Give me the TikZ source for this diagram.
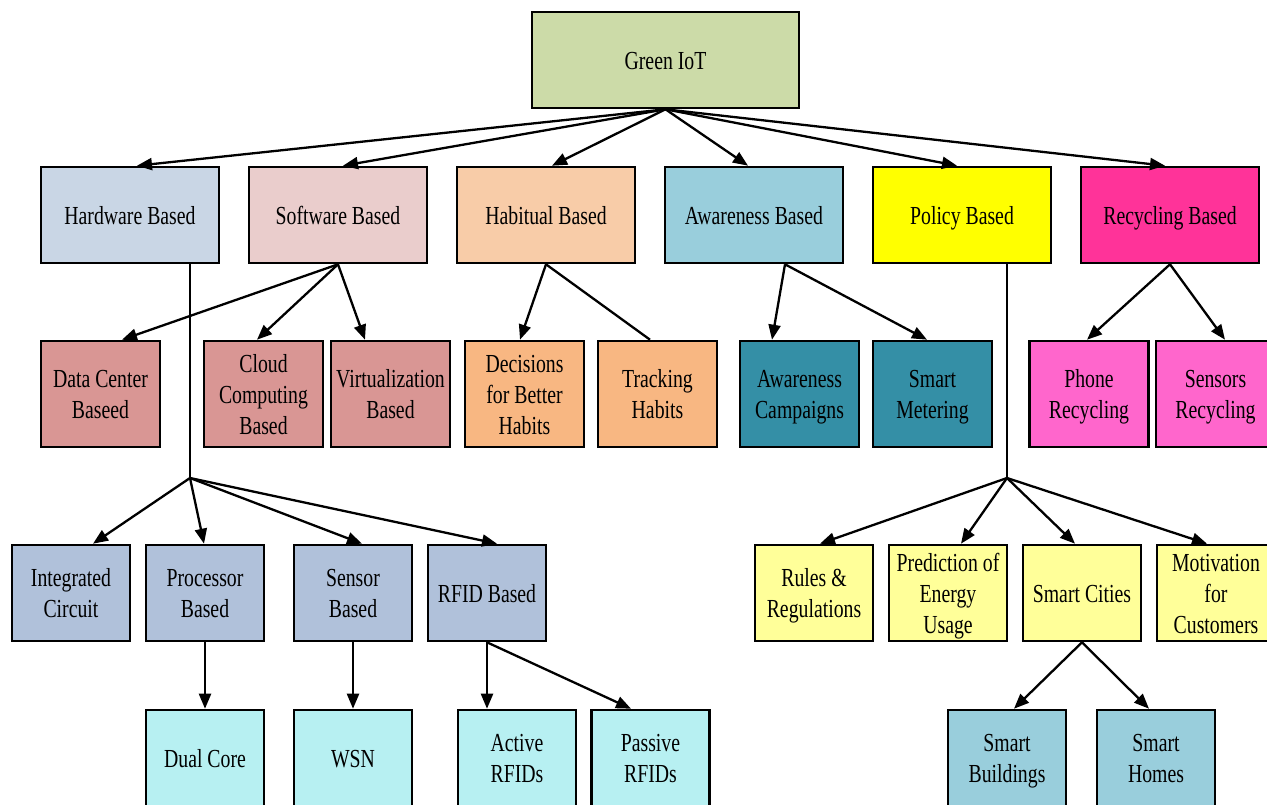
\documentclass[tikz,border=0pt]{standalone}
\usepackage{fontspec}
\setmainfont[FakeStretch=0.76]{Liberation Serif}
\usetikzlibrary{arrows.meta,calc}
\definecolor{cTop}{RGB}{204,219,168}
\definecolor{cHw}{RGB}{201,214,229}
\definecolor{cSw}{RGB}{234,205,204}
\definecolor{cHab}{RGB}{248,204,168}
\definecolor{cAwa}{RGB}{153,206,220}
\definecolor{cPol}{RGB}{255,255,0}
\definecolor{cRec}{RGB}{255,51,153}
\definecolor{cSwK}{RGB}{217,150,148}
\definecolor{cHabK}{RGB}{248,183,130}
\definecolor{cAwaK}{RGB}{52,143,166}
\definecolor{cRecK}{RGB}{255,102,204}
\definecolor{cHwK}{RGB}{176,193,218}
\definecolor{cLeaf}{RGB}{183,240,242}
\definecolor{cPolK}{RGB}{255,255,153}
\newcommand\bstr{\rule[-6.5pt]{0pt}{31pt}}
\begin{document}
\begin{tikzpicture}[x=1pt,y=-1pt,
  box/.style={draw=black, line width=2.6pt, align=center, inner sep=0pt, font=\fontsize{26}{31}\selectfont},
  topbox/.style={box, minimum width=267pt, minimum height=96pt},
  rowone/.style={box, minimum width=178pt, minimum height=96pt},
  rowtwo/.style={box, minimum width=119pt, minimum height=106pt},
  rowthree/.style={box, minimum width=118pt, minimum height=96pt},
  conn/.style={line width=2.3pt, -{Triangle[length=15pt,width=12pt]}},
  plainline/.style={line width=2.3pt}]
\useasboundingbox (0,0) rectangle (1267,804);
\clip (0,0) rectangle (1267,804);

% top
\node[topbox, fill=cTop] (giot) at (665.5,60) {\bstr Green IoT};

% row 1
\node[rowone, fill=cHw]  (hw)  at (130,215)  {\bstr Hardware Based};
\node[rowone, fill=cSw]  (sw)  at (338,215)  {\bstr Software Based};
\node[rowone, fill=cHab] (hab) at (546,215)  {\bstr Habitual Based};
\node[rowone, fill=cAwa] (awa) at (754,215)  {\bstr Awareness Based};
\node[rowone, fill=cPol] (pol) at (962,215)  {\bstr Policy Based};
\node[rowone, fill=cRec] (rec) at (1170,215) {\bstr Recycling Based};

% row 2
\node[rowtwo, fill=cSwK]  (dc)  at (100.5,394) {\bstr Data Center\\\bstr Baseed};
\node[rowtwo, fill=cSwK]  (cc)  at (263.5,394) {\bstr Cloud\\\bstr Computing\\\bstr Based};
\node[rowtwo, fill=cSwK]  (vb)  at (390.5,394) {\bstr Virtualization\\\bstr Based};
\node[rowtwo, fill=cHabK] (dbh) at (524.5,394) {\bstr Decisions\\\bstr for Better\\\bstr Habits};
\node[rowtwo, fill=cHabK] (th)  at (657.5,394) {\bstr Tracking\\\bstr Habits};
\node[rowtwo, fill=cAwaK] (ac)  at (799.5,394) {\bstr Awareness\\\bstr Campaigns};
\node[rowtwo, fill=cAwaK] (sm)  at (932.5,394) {\bstr Smart\\\bstr Metering};
\node[rowtwo, fill=cRecK] (pr)  at (1089,394)  {\bstr Phone\\\bstr Recycling};
\node[rowtwo, fill=cRecK] (sr)  at (1215.5,394) {\bstr Sensors\\\bstr Recycling};

% row 3
\node[rowthree, fill=cHwK]  (ic) at (71,593)   {\bstr Integrated\\\bstr Circuit};
\node[rowthree, fill=cHwK]  (pb) at (205,593)  {\bstr Processor\\\bstr Based};
\node[rowthree, fill=cHwK]  (sb) at (353,593)  {\bstr Sensor\\\bstr Based};
\node[rowthree, fill=cHwK]  (rf) at (487,593)  {\bstr RFID Based};
\node[rowthree, fill=cPolK] (rr) at (814,593)  {\bstr Rules \&\\\bstr Regulations};
\node[rowthree, fill=cPolK] (pe) at (948,593)  {\bstr Prediction of\\\bstr Energy\\\bstr Usage};
\node[rowthree, fill=cPolK] (sc) at (1082,593) {\bstr Smart Cities};
\node[rowthree, fill=cPolK] (mc) at (1216,593) {\bstr Motivation\\\bstr for\\\bstr Customers};

% row 4
\node[rowthree, fill=cLeaf] (dcore) at (205,758)   {\bstr Dual Core};
\node[rowthree, fill=cLeaf] (wsn)   at (353,758)   {\bstr WSN};
\node[rowthree, fill=cLeaf] (act)   at (517,758)   {\bstr Active\\\bstr RFIDs};
\node[rowthree, fill=cLeaf] (pas)   at (650.5,758) {\bstr Passive\\\bstr RFIDs};
\node[rowthree, fill=cAwa]  (sbu)   at (1007,758)  {\bstr Smart\\\bstr Buildings};
\node[rowthree, fill=cAwa]  (sho)   at (1156,758)  {\bstr Smart\\\bstr Homes};

% junctions
\coordinate (jh) at (190,478);
\coordinate (jp) at (1007,478);

% top connectors
\draw[conn] (giot.south) -- ($(hw.north)+(7,0)$);
\draw[conn] (giot.south) -- ($(sw.north)+(5,0)$);
\draw[conn] (giot.south) -- ($(hab.north)+(6,0)$);
\draw[conn] (giot.south) -- ($(awa.north)+(-6,0)$);
\draw[conn] (giot.south) -- ($(pol.north)+(-5,0)$);
\draw[conn] (giot.south) -- ($(rec.north)+(-5,0)$);

% software
\draw[conn] (sw.south) -- ($(dc.north)+(21.5,0)$);
\draw[conn] (sw.south) -- ($(cc.north)+(-6.5,0)$);
\draw[conn] (sw.south) -- ($(vb.north)+(-25.5,0)$);

% habitual
\draw[conn] (hab.south) -- ($(dbh.north)+(-4.5,0)$);
\draw[plainline] (hab.south) -- ($(th.north)+(-7.5,0)$);

% awareness
\draw[conn] ($(awa.south)+(31,0)$) -- ($(ac.north)+(-27.5,0)$);
\draw[conn] ($(awa.south)+(31,0)$) -- ($(sm.north)+(-5.5,0)$);

% recycling
\draw[conn] (rec.south) -- ($(pr.north)+(-2,0)$);
\draw[conn] (rec.south) -- ($(sr.north)+(9.5,0)$);

% hardware
\draw[plainline] (hw.south -| jh) -- (jh);
\draw[conn] (jh) -- ($(ic.north)+(22,0)$);
\draw[conn] (jh) -- ($(pb.north)+(-1,0)$);
\draw[conn] (jh) -- ($(sb.north)+(9,0)$);
\draw[conn] (jh) -- ($(rf.north)+(10,0)$);

% policy
\draw[plainline] (pol.south -| jp) -- (jp);
\draw[conn] (jp) -- ($(rr.north)+(6,0)$);
\draw[conn] (jp) -- ($(pe.north)+(13,0)$);
\draw[conn] (jp) -- ($(sc.north)+(-7,0)$);
\draw[conn] (jp) -- ($(mc.north)+(-9,0)$);

% lower level
\draw[conn] (pb.south) -- (dcore.north);
\draw[conn] (sb.south) -- (wsn.north);
\draw[conn] (rf.south) -- ($(act.north)+(-30,0)$);
\draw[conn] (rf.south) -- ($(pas.north)+(-19.5,0)$);
\draw[conn] (sc.south) -- ($(sbu.north)+(7,0)$);
\draw[conn] (sc.south) -- ($(sho.north)+(-7,0)$);
\end{tikzpicture}
\end{document}
